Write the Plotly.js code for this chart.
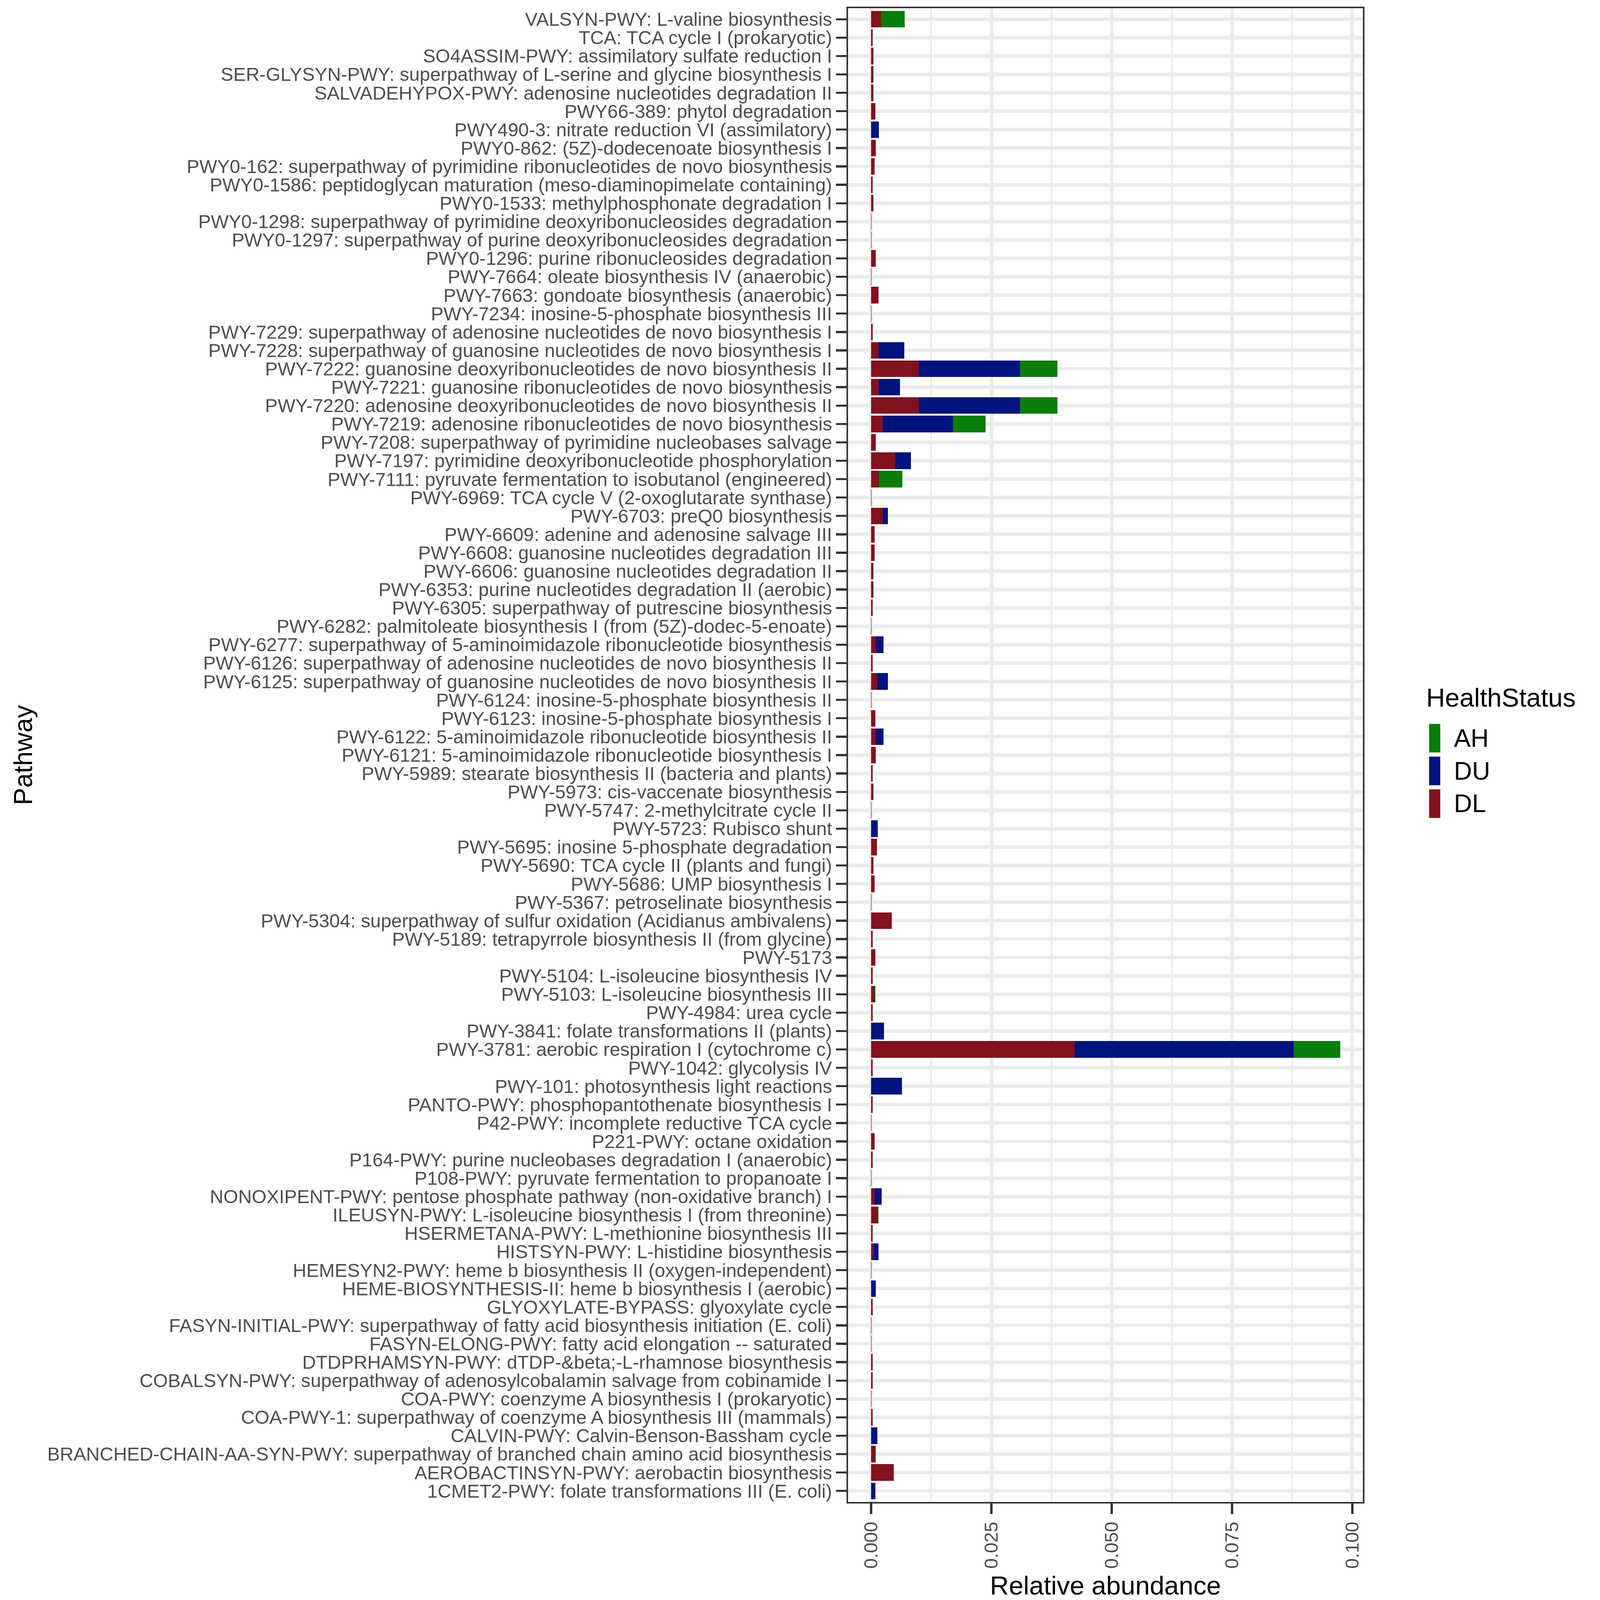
<!DOCTYPE html>
<html>
<head>
<meta charset="utf-8">
<script src="https://cdn.plot.ly/plotly-3.0.1.min.js"></script>
<style>html,body{margin:0;padding:0;background:#fff;overflow:hidden;}</style>
</head>
<body>
<div id="chart"></div>
<script>
// Pathways, listed top to bottom as drawn
const pathways = [
"VALSYN-PWY: L-valine biosynthesis",
"TCA: TCA cycle I (prokaryotic)",
"SO4ASSIM-PWY: assimilatory sulfate reduction I",
"SER-GLYSYN-PWY: superpathway of L-serine and glycine biosynthesis I",
"SALVADEHYPOX-PWY: adenosine nucleotides degradation II",
"PWY66-389: phytol degradation",
"PWY490-3: nitrate reduction VI (assimilatory)",
"PWY0-862: (5Z)-dodecenoate biosynthesis I",
"PWY0-162: superpathway of pyrimidine ribonucleotides de novo biosynthesis",
"PWY0-1586: peptidoglycan maturation (meso-diaminopimelate containing)",
"PWY0-1533: methylphosphonate degradation I",
"PWY0-1298: superpathway of pyrimidine deoxyribonucleosides degradation",
"PWY0-1297: superpathway of purine deoxyribonucleosides degradation",
"PWY0-1296: purine ribonucleosides degradation",
"PWY-7664: oleate biosynthesis IV (anaerobic)",
"PWY-7663: gondoate biosynthesis (anaerobic)",
"PWY-7234: inosine-5-phosphate biosynthesis III",
"PWY-7229: superpathway of adenosine nucleotides de novo biosynthesis I",
"PWY-7228: superpathway of guanosine nucleotides de novo biosynthesis I",
"PWY-7222: guanosine deoxyribonucleotides de novo biosynthesis II",
"PWY-7221: guanosine ribonucleotides de novo biosynthesis",
"PWY-7220: adenosine deoxyribonucleotides de novo biosynthesis II",
"PWY-7219: adenosine ribonucleotides de novo biosynthesis",
"PWY-7208: superpathway of pyrimidine nucleobases salvage",
"PWY-7197: pyrimidine deoxyribonucleotide phosphorylation",
"PWY-7111: pyruvate fermentation to isobutanol (engineered)",
"PWY-6969: TCA cycle V (2-oxoglutarate synthase)",
"PWY-6703: preQ0 biosynthesis",
"PWY-6609: adenine and adenosine salvage III",
"PWY-6608: guanosine nucleotides degradation III",
"PWY-6606: guanosine nucleotides degradation II",
"PWY-6353: purine nucleotides degradation II (aerobic)",
"PWY-6305: superpathway of putrescine biosynthesis",
"PWY-6282: palmitoleate biosynthesis I (from (5Z)-dodec-5-enoate)",
"PWY-6277: superpathway of 5-aminoimidazole ribonucleotide biosynthesis",
"PWY-6126: superpathway of adenosine nucleotides de novo biosynthesis II",
"PWY-6125: superpathway of guanosine nucleotides de novo biosynthesis II",
"PWY-6124: inosine-5-phosphate biosynthesis II",
"PWY-6123: inosine-5-phosphate biosynthesis I",
"PWY-6122: 5-aminoimidazole ribonucleotide biosynthesis II",
"PWY-6121: 5-aminoimidazole ribonucleotide biosynthesis I",
"PWY-5989: stearate biosynthesis II (bacteria and plants)",
"PWY-5973: cis-vaccenate biosynthesis",
"PWY-5747: 2-methylcitrate cycle II",
"PWY-5723: Rubisco shunt",
"PWY-5695: inosine 5-phosphate degradation",
"PWY-5690: TCA cycle II (plants and fungi)",
"PWY-5686: UMP biosynthesis I",
"PWY-5367: petroselinate biosynthesis",
"PWY-5304: superpathway of sulfur oxidation (Acidianus ambivalens)",
"PWY-5189: tetrapyrrole biosynthesis II (from glycine)",
"PWY-5173",
"PWY-5104: L-isoleucine biosynthesis IV",
"PWY-5103: L-isoleucine biosynthesis III",
"PWY-4984: urea cycle",
"PWY-3841: folate transformations II (plants)",
"PWY-3781: aerobic respiration I (cytochrome c)",
"PWY-1042: glycolysis IV",
"PWY-101: photosynthesis light reactions",
"PANTO-PWY: phosphopantothenate biosynthesis I",
"P42-PWY: incomplete reductive TCA cycle",
"P221-PWY: octane oxidation",
"P164-PWY: purine nucleobases degradation I (anaerobic)",
"P108-PWY: pyruvate fermentation to propanoate I",
"NONOXIPENT-PWY: pentose phosphate pathway (non-oxidative branch) I",
"ILEUSYN-PWY: L-isoleucine biosynthesis I (from threonine)",
"HSERMETANA-PWY: L-methionine biosynthesis III",
"HISTSYN-PWY: L-histidine biosynthesis",
"HEMESYN2-PWY: heme b biosynthesis II (oxygen-independent)",
"HEME-BIOSYNTHESIS-II: heme b biosynthesis I (aerobic)",
"GLYOXYLATE-BYPASS: glyoxylate cycle",
"FASYN-INITIAL-PWY: superpathway of fatty acid biosynthesis initiation (E. coli)",
"FASYN-ELONG-PWY: fatty acid elongation -- saturated",
"DTDPRHAMSYN-PWY: dTDP-&amp;beta;-L-rhamnose biosynthesis",
"COBALSYN-PWY: superpathway of adenosylcobalamin salvage from cobinamide I",
"COA-PWY: coenzyme A biosynthesis I (prokaryotic)",
"COA-PWY-1: superpathway of coenzyme A biosynthesis III (mammals)",
"CALVIN-PWY: Calvin-Benson-Bassham cycle",
"BRANCHED-CHAIN-AA-SYN-PWY: superpathway of branched chain amino acid biosynthesis",
"AEROBACTINSYN-PWY: aerobactin biosynthesis",
"1CMET2-PWY: folate transformations III (E. coli)"
];

// Relative abundance per health status (same order as pathways)
const DL = [
0.0021,0.0003,0.0005,0.0005,0.0005,0.0009,0,0.0010,0.0007,0.0003,
0.0005,0.0001,0.0001,0.0010,0.0001,0.0015,0.0001,0.0003,0.0015,0.0099,
0.0016,0.0099,0.0024,0.0010,0.0050,0.0016,0.0001,0.0024,0.0007,0.0007,
0.0005,0.0005,0.0003,0.0001,0.0010,0.0003,0.0013,0.0001,0.0009,0.0010,
0.0010,0.0003,0.0005,0.0001,0,0.0012,0.0005,0.0007,0.0001,0.0043,
0.0003,0.0009,0.0003,0.0007,0.0003,0,0.0423,0.0003,0,0.0003,
0.0001,0.0007,0.0003,0.0001,0.0007,0.0014,0.0003,0.0005,0.0001,0,
0.0003,0.0001,0.0001,0.0003,0.0003,0.0001,0.0003,0,0.0009,0.0047,
0
];
const DU = [
0,0,0,0,0,0,0.0016,0,0,0,
0,0,0,0,0,0,0,0,0.0054,0.0210,
0.0044,0.0210,0.0146,0,0.0033,0,0,0.0011,0,0,
0,0,0,0,0.0015,0,0.0022,0,0,0.0015,
0,0,0,0,0.0014,0,0,0,0,0,
0,0,0,0,0,0.0027,0.0455,0,0.0064,0,
0,0,0,0,0.0015,0,0,0.0010,0,0.0010,
0,0,0,0,0,0,0,0.0013,0,0,
0.0009
];
const AH = [
0.0049,0,0,0,0,0,0,0,0,0,
0,0,0,0,0,0,0,0,0,0.0078,
0,0.0078,0.0068,0,0,0.0049,0,0,0,0,
0,0,0,0,0.00005,0,0,0,0,0.00005,
0,0,0,0,0,0,0,0,0,0,
0,0,0,0.0002,0,0,0.0097,0,0,0,
0,0,0,0,0,0.0001,0,0,0,0,
0,0,0,0,0,0,0,0,0.0001,0,
0
];
const groups = ["AH","DU","DL"];
const groupColors = {AH:"#0a7d0a", DU:"#00137f", DL:"#83111f"};
const xTicks = [0, 0.025, 0.05, 0.075, 0.1];

// design size in reference pixels; everything is scaled to the actual viewport
const W0 = 4550, H0 = 4592;
const vw = window.innerWidth || W0, vh = window.innerHeight || H0;
const k = Math.min(vw / W0, vh / H0);
const S = v => v * k;
const W = Math.round(S(W0)), H = Math.round(S(H0));
const chartDiv = document.getElementById("chart");
chartDiv.style.width = W + "px";
chartDiv.style.height = H + "px";

const M0 = {l:2434, r:639, t:24, b:281};
const M = {l:S(M0.l), r:S(M0.r), t:S(M0.t), b:S(M0.b), pad:0};
const pw0 = W0 - M0.l - M0.r, ph0 = H0 - M0.t - M0.b;
const px2x = p => (p - M0.l) / pw0;
const py2y = p => 1 - (p - M0.t) / ph0;
const FONT = "Liberation Sans, Arial, Helvetica, sans-serif";

const seriesData = {DL: DL, DU: DU, AH: AH};
// stack order from zero: DL, DU, AH
const traces = ["DL","DU","AH"].map(g => ({
  type: "bar",
  orientation: "h",
  name: g,
  y: pathways,
  x: seriesData[g],
  marker: {color: groupColors[g], line: {width: 0}},
  showlegend: false,
  hoverinfo: "x+y+name"
}));

const shapes = [];
const annotations = [];
// legend (drawn in paper space)
const keyTops = [2078, 2172, 2266];
groups.forEach((g, i) => {
  shapes.push({type:"rect", xref:"paper", yref:"paper",
    x0: px2x(4101), x1: px2x(4133), y0: py2y(keyTops[i]), y1: py2y(keyTops[i] + 82),
    fillcolor: groupColors[g], line:{width:0}});
  annotations.push({xref:"paper", yref:"paper", x: px2x(4170), y: py2y(keyTops[i] + 41),
    xanchor:"left", yanchor:"middle", showarrow:false, text: g,
    font:{family: FONT, size: S(72), color:"#000"}});
});
annotations.push({xref:"paper", yref:"paper", x: px2x(4090), y: py2y(2002),
  xanchor:"left", yanchor:"middle", showarrow:false, text:"HealthStatus",
  font:{family: FONT, size: S(75), color:"#000"}});

const layout = {
  width: W, height: H,
  margin: M,
  paper_bgcolor: "#ffffff",
  plot_bgcolor: "#ffffff",
  barmode: "stack",
  bargap: 0.1,
  showlegend: false,
  font: {family: FONT},
  xaxis: {
    range: [-0.0048, 0.1022],
    tickmode: "array",
    tickvals: xTicks,
    tickformat: ".3f",
    tickangle: -90,
    tickfont: {size: S(54), color: "#4d4d4d"},
    ticks: "outside", ticklen: S(30), tickwidth: S(6), tickcolor: "#333333",
    showgrid: true, gridcolor: "#ebebeb", gridwidth: S(10),
    minor: {dtick: 0.0125, tick0: 0, showgrid: true, gridcolor: "#ebebeb", gridwidth: S(5), ticks: ""},
    zeroline: false,
    showline: true, mirror: true, linecolor: "#333333", linewidth: S(5),
    title: {text: "Relative abundance", font: {size: S(75), color: "#000"}, standoff: S(30)},
    fixedrange: true
  },
  yaxis: {
    type: "category",
    categoryorder: "array",
    categoryarray: pathways,
    tickmode: "array",
    tickvals: pathways,
    ticktext: pathways,
    range: [pathways.length - 0.4, -0.6],
    tickfont: {size: S(54.2), color: "#4d4d4d"},
    ticklabelstandoff: S(8),
    ticks: "outside", ticklen: S(30), tickwidth: S(6), tickcolor: "#333333",
    showgrid: true, gridcolor: "#ebebeb", gridwidth: S(10),
    zeroline: false,
    showline: true, mirror: true, linecolor: "#333333", linewidth: S(5),
    title: {text: "Pathway", font: {size: S(75), color: "#000"}, standoff: S(20)},
    fixedrange: true
  },
  shapes: shapes,
  annotations: annotations
};

Plotly.newPlot(chartDiv, traces, layout, {staticPlot: true, displayModeBar: false});
</script>
</body>
</html>
